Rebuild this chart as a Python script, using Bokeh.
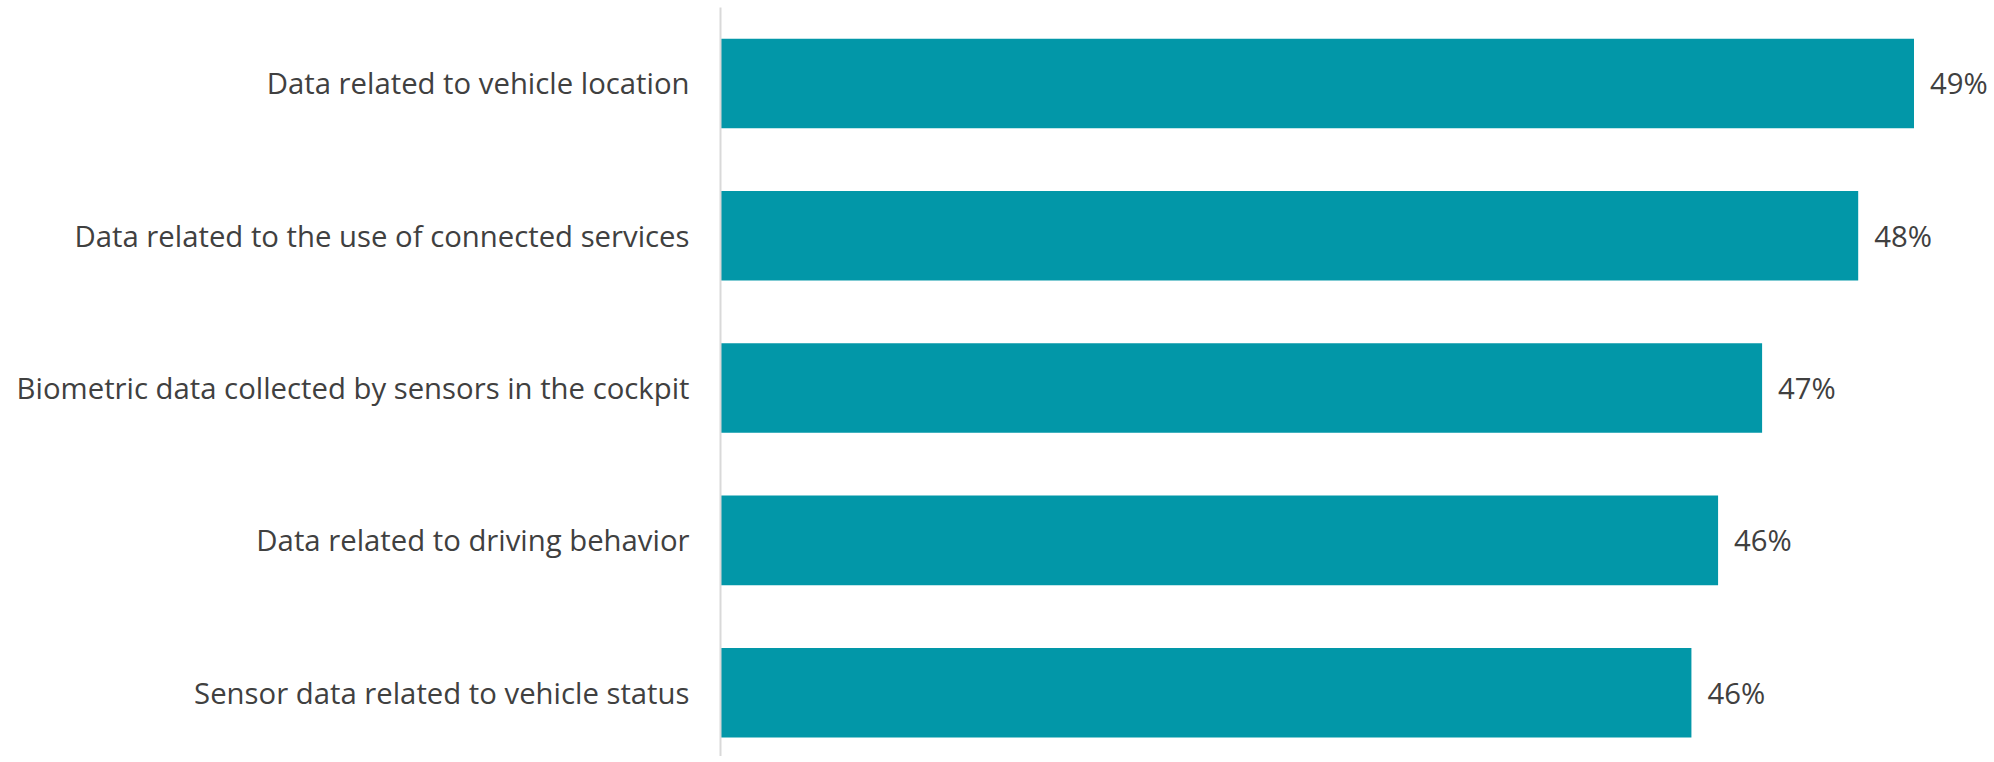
from bokeh.plotting import figure
from bokeh.models import Range1d, FixedTicker, ColumnDataSource
from bokeh.core.properties import value
from bokeh.embed import file_html
from bokeh.resources import INLINE

categories = [
    "Data related to vehicle location",
    "Data related to the use of connected services",
    "Biometric data collected by sensors in the cockpit",
    "Data related to driving behavior",
    "Sensor data related to vehicle status",
]
shares = [49.25, 48.35, 46.8, 46.09, 45.66]
share_labels = ["49%", "48%", "47%", "46%", "46%"]

AXIS_START = 30
BAR_COLOR = "#0297A8"
TEXT_COLOR = "#404040"
FONT = "Open Sans"

positions = list(range(len(categories)))
src = ColumnDataSource(dict(y=positions, v=shares, lab=share_labels,
                            left=[AXIS_START] * len(shares)))

p = figure(width=1994, height=756, output_backend="svg", toolbar_location=None,
           x_range=Range1d(AXIS_START, AXIS_START + 1274 / 62),
           y_range=Range1d(4.419, -0.499),
           x_axis_location=None,
           min_border_left=720, min_border_right=0, min_border_top=7, min_border_bottom=0)
p.outline_line_color = None
p.grid.visible = False

p.hbar(y="y", left="left", right="v", height=0.588, source=src,
       fill_color=BAR_COLOR, line_color=None)
p.text(x="v", y="y", text="lab", source=src, x_offset=16,
       text_align="left", text_baseline="middle",
       text_font=value(FONT), text_font_size="29.3px", text_color=TEXT_COLOR)

ax = p.yaxis[0]
ax.ticker = FixedTicker(ticks=positions)
ax.major_label_overrides = {i: c for i, c in zip(positions, categories)}
ax.major_label_text_font = FONT
ax.major_label_text_font_size = "29.3px"
ax.major_label_text_color = TEXT_COLOR
ax.major_tick_line_color = None
ax.minor_tick_line_color = None
ax.major_tick_out = 0
ax.major_tick_in = 0
ax.minor_tick_out = 0
ax.major_label_standoff = 31
ax.axis_line_color = "#d9d9d9"
ax.axis_line_width = 2

open("out.html", "w").write(file_html(p, INLINE))
